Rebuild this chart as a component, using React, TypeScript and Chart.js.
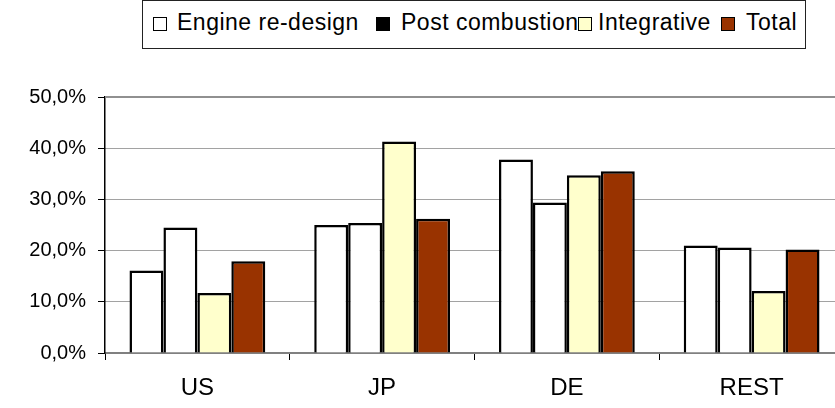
import React, { useEffect, useRef } from "react";
import { Chart, registerables } from "chart.js";

Chart.register(...registerables);

const categories = ["US", "JP", "DE", "REST"];
const engineRedesign = [16.1, 25.0, 37.8, 21.0];
const postCombustion = [24.5, 25.4, 29.4, 20.6];
const integrative = [11.7, 41.3, 34.7, 12.1];
const total = [17.9, 26.2, 35.5, 20.2];

const seriesNames = ["Engine re-design", "Post combustion", "Integrative", "Total"];
const barColors = ["#FFFFFF", "#FFFFFF", "#FFFFCC", "#993300"];
const legendColors = ["#FFFFFF", "#000000", "#FFFFCC", "#993300"];

const FONT = "'Liberation Sans', Arial, sans-serif";

const topLinePlugin = {
  id: "topLine",
  beforeDatasetsDraw(chart: any) {
    const { ctx, chartArea } = chart;
    ctx.save();
    ctx.strokeStyle = "#909090";
    ctx.lineWidth = 2;
    ctx.beginPath();
    ctx.moveTo(chartArea.left, chartArea.top);
    ctx.lineTo(chartArea.right, chartArea.top);
    ctx.stroke();
    ctx.restore();
  },
};

// legend layout offsets (relative to legend box)
const legendSquareLeft = [10, 233, 435, 578];
const legendTextLeft = [34, 258, 455, 603];

export default function App() {
  const canvasRef = useRef<HTMLCanvasElement | null>(null);

  useEffect(() => {
    if (!canvasRef.current) return;
    const values = [engineRedesign, postCombustion, integrative, total];
    const chart = new Chart(canvasRef.current, {
      type: "bar",
      data: {
        labels: categories,
        datasets: values.map((v, i) => ({
          label: seriesNames[i],
          data: v,
          backgroundColor: barColors[i],
          borderColor: "#000000",
          borderWidth: 2.5,
          categoryPercentage: 0.735,
          barPercentage: 1,
        })),
      },
      options: {
        animation: false,
        responsive: false,
        maintainAspectRatio: false,
        layout: { padding: { top: 97, left: 0, right: 0, bottom: 0 } },
        plugins: {
          legend: { display: false },
          tooltip: { enabled: false },
          title: { display: false },
        },
        scales: {
          x: {
            afterFit(scale: any) {
              scale.height = 55;
            },
            grid: {
              display: true,
              drawOnChartArea: false,
              drawTicks: true,
              tickLength: 7,
              tickColor: "#000000",
              tickWidth: 1,
            },
            border: { display: true, color: "#808080", width: 2 },
            ticks: {
              color: "#000000",
              font: { family: FONT, size: 24 },
              padding: 14,
            },
          },
          y: {
            min: 0,
            max: 50,
            afterFit(scale: any) {
              scale.width = 105;
            },
            grid: {
              color: "#444444",
              lineWidth: 1,
              drawTicks: true,
              tickLength: 7,
              tickColor: "#000000",
              tickWidth: 1,
            },
            border: { display: true, color: "#000000", width: 1.5, dash: [1, 1] },
            ticks: {
              stepSize: 10,
              color: "#000000",
              font: { family: FONT, size: 20 },
              padding: 12,
              callback: (v: any) => Number(v).toFixed(1).replace(".", ",") + "%",
            },
          },
        },
      },
      plugins: [topLinePlugin],
    });
    return () => chart.destroy();
  }, []);

  return (
    <div
      style={{
        position: "fixed",
        left: 0,
        top: 0,
        width: 835,
        height: 408,
        overflow: "hidden",
        background: "#ffffff",
      }}
    >
      <canvas
        ref={canvasRef}
        width={844}
        height={408}
        style={{ position: "absolute", left: 0, top: 0, width: 844, height: 408 }}
      />
      <div
        style={{
          position: "absolute",
          left: 142,
          top: 0,
          width: 662,
          height: 47,
          border: "1px solid #222",
          background: "#fff",
          fontFamily: FONT,
          fontSize: 23,
          letterSpacing: "0.5px",
          color: "#000",
        }}
      >
        {seriesNames.map((name, i) => (
          <React.Fragment key={name}>
            <span
              style={{
                position: "absolute",
                left: legendTextLeft[i],
                top: 10,
                lineHeight: "23px",
                whiteSpace: "nowrap",
              }}
            >
              {name}
            </span>
            <span
              style={{
                position: "absolute",
                left: legendSquareLeft[i],
                top: 16,
                width: 12,
                height: 12,
                boxSizing: "content-box",
                border: "1px solid #000",
                background: legendColors[i],
              }}
            />
          </React.Fragment>
        ))}
      </div>
    </div>
  );
}
